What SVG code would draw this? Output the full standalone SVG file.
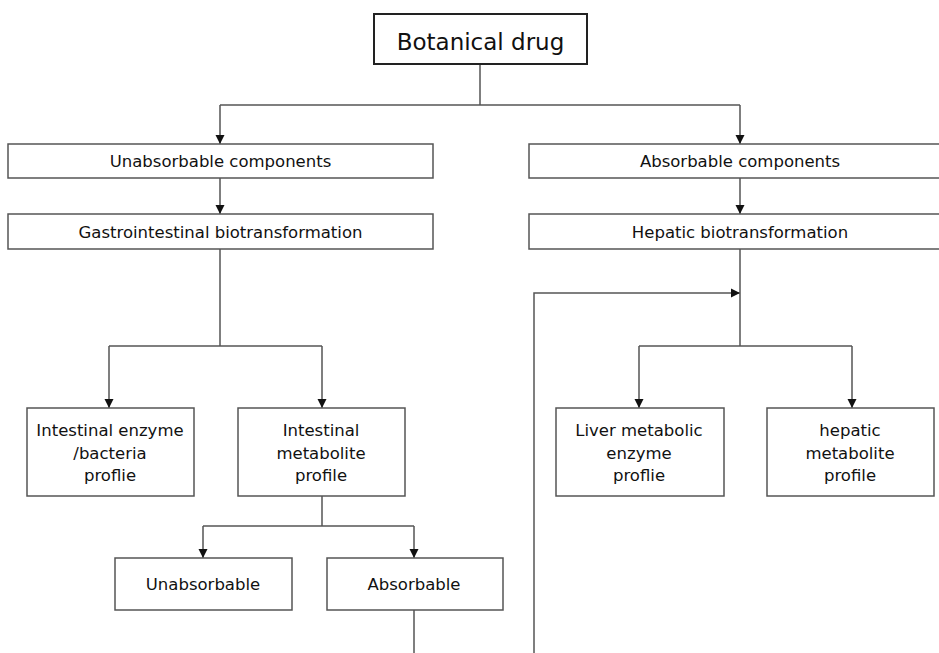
<svg xmlns="http://www.w3.org/2000/svg" width="939" height="653" viewBox="0 0 939 653">
<style>
.box{fill:#fff;stroke:#555;stroke-width:1.5}
.title{fill:#fff;stroke:#222;stroke-width:2}
text{font-family:"DejaVu Sans","Liberation Sans",sans-serif;font-size:16.5px;fill:#111;text-anchor:middle}
.big{font-size:23px}
.conn path{fill:none;stroke:#555;stroke-width:1.5}
</style>
<defs>
<marker id="arr" markerUnits="userSpaceOnUse" markerWidth="10" markerHeight="10" refX="9" refY="5" orient="auto">
<path d="M0,0.5 L9,5 L0,9.5 Z" fill="#111"/>
</marker>
</defs>
<rect width="939" height="653" fill="#fff"/>
<g class="conn">
<path d="M480,64 V105"/>
<path d="M220,105 H740"/>
<path d="M220,105 V144" marker-end="url(#arr)"/>
<path d="M740,105 V144" marker-end="url(#arr)"/>
<path d="M220,178 V214" marker-end="url(#arr)"/>
<path d="M740,178 V214" marker-end="url(#arr)"/>
<path d="M220,249 V346"/>
<path d="M109,346 H322"/>
<path d="M109,346 V408" marker-end="url(#arr)"/>
<path d="M322,346 V408" marker-end="url(#arr)"/>
<path d="M322,496 V526"/>
<path d="M203,526 H414"/>
<path d="M203,526 V558" marker-end="url(#arr)"/>
<path d="M414,526 V558" marker-end="url(#arr)"/>
<path d="M414,610 V653"/>
<path d="M534,653 V293 H740" marker-end="url(#arr)"/>
<path d="M740,249 V346"/>
<path d="M639,346 H852"/>
<path d="M639,346 V408" marker-end="url(#arr)"/>
<path d="M852,346 V408" marker-end="url(#arr)"/>
</g>
<g id="botanical"><rect class="title" x="374" y="14" width="213" height="50"/><text class="big" x="480.5" y="50">Botanical drug</text></g>
<g id="unabs-comp"><rect class="box" x="8" y="144" width="425" height="34"/><text x="220.5" y="167">Unabsorbable components</text></g>
<g id="abs-comp"><rect class="box" x="529" y="144" width="420" height="34"/><text x="740" y="167">Absorbable components</text></g>
<g id="gi-bio"><rect class="box" x="8" y="214" width="425" height="35"/><text x="220.5" y="238">Gastrointestinal biotransformation</text></g>
<g id="hep-bio"><rect class="box" x="529" y="214" width="420" height="35"/><text x="740" y="238">Hepatic biotransformation</text></g>
<g id="int-enzyme"><rect class="box" x="27" y="408" width="167" height="88"/><text x="110" y="436">Intestinal enzyme</text><text x="110" y="459">/bacteria</text><text x="110" y="481">proflie</text></g>
<g id="int-metab"><rect class="box" x="238" y="408" width="167" height="88"/><text x="321" y="436">Intestinal</text><text x="321" y="459">metabolite</text><text x="321" y="481">profile</text></g>
<g id="liver-enzyme"><rect class="box" x="556" y="408" width="168" height="88"/><text x="639" y="436">Liver metabolic</text><text x="639" y="459">enzyme</text><text x="639" y="481">proflie</text></g>
<g id="hep-metab"><rect class="box" x="767" y="408" width="167" height="88"/><text x="850" y="436">hepatic</text><text x="850" y="459">metabolite</text><text x="850" y="481">profile</text></g>
<g id="unabs"><rect class="box" x="115" y="558" width="177" height="52"/><text x="203" y="590">Unabsorbable</text></g>
<g id="abs"><rect class="box" x="327" y="558" width="176" height="52"/><text x="414" y="590">Absorbable</text></g>
</svg>
